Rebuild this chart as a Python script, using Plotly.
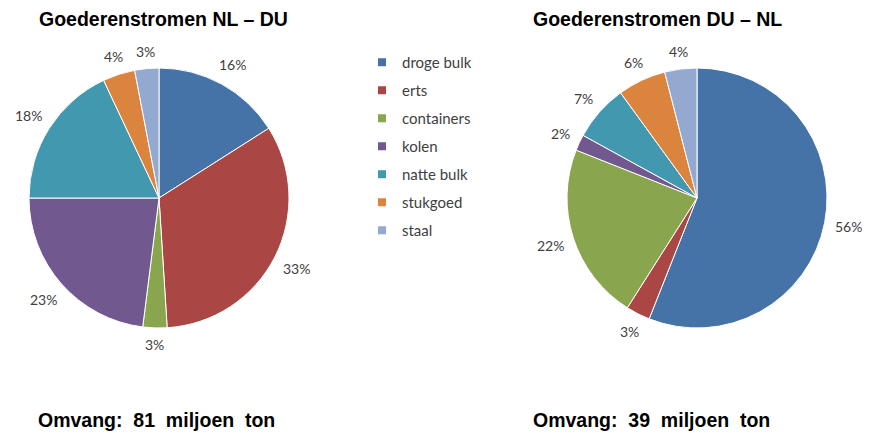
import math
import plotly.graph_objects as go

categories = ["droge bulk", "erts", "containers", "kolen", "natte bulk", "stukgoed", "staal"]
nl_du_values = [16, 33, 3, 23, 18, 4, 3]
du_nl_values = [56, 3, 22, 2, 7, 6, 4]
colors = ["#4572A7", "#AA4643", "#89A54E", "#71588F", "#4198AF", "#DB843D", "#93A9CF"]

title_left = "Goederenstromen NL – DU"
title_right = "Goederenstromen DU – NL"
volume_left = "Omvang:\u00a0 81\u00a0 miljoen\u00a0 ton"
volume_right = "Omvang:\u00a0 39\u00a0 miljoen\u00a0 ton"

W, H = 870, 433
OFF = 8  # page body margin in the browser


def fx(x):
    return (x - OFF) / W


def fy(y):
    return 1 - (y - OFF) / H


LABEL_FONT = dict(family="Lato, Open Sans, sans-serif", size=14, color="#404040")

# pie boxes in reference pixels: (x0, x1, y0, y1)
left_box = (29, 289, 68, 328)
right_box = (567, 827, 68, 328)


def pie(values, box):
    x0, x1, y0, y1 = box
    return go.Pie(
        labels=categories, values=values, sort=False, direction="clockwise",
        rotation=0, marker=dict(colors=colors, line=dict(color="white", width=1)),
        textinfo="none",
        domain=dict(x=[fx(x0), fx(x1)], y=[fy(y1), fy(y0)]),
        showlegend=False, hoverinfo="label+percent",
    )


def label_annotations(values, box):
    x0, x1, y0, y1 = box
    cx, cy = (x0 + x1) / 2, (y0 + y1) / 2
    R = (x1 - x0) / 2
    total = sum(values)
    cum = 0
    anns = []
    fs = LABEL_FONT["size"]
    for v in values:
        theta = 2 * math.pi * (cum + v / 2) / total
        cum += v
        txt = "%d%%" % round(100 * v / total)
        hw = 0.5 * fs * (0.58 * (len(txt) - 1) + 0.85)
        hh = 0.5 * fs
        s, c = math.sin(theta), math.cos(theta)
        r = R + 9 + abs(s) * hw + abs(c) * hh
        anns.append(dict(x=fx(cx + r * s), y=fy(cy - r * c), xref="paper", yref="paper",
                         text=txt, showarrow=False, font=LABEL_FONT,
                         xanchor="center", yanchor="middle"))
    return anns


fig = go.Figure()
fig.add_trace(pie(nl_du_values, left_box))
fig.add_trace(pie(du_nl_values, right_box))

for cat, col in zip(categories, colors):
    fig.add_trace(go.Scatter(
        x=[None], y=[None], mode="markers", name=cat, legendgroup=cat,
        marker=dict(symbol="square", size=8, color=col), showlegend=True,
    ))

fig.update_xaxes(visible=False)
fig.update_yaxes(visible=False)

for a in label_annotations(nl_du_values, left_box) + label_annotations(du_nl_values, right_box):
    fig.add_annotation(**a)

tfont = dict(family="Liberation Sans, Arial, sans-serif", size=19.5, color="black")
for x, y, t in [(163, 19, title_left), (657, 19, title_right),
                (156, 420, volume_left), (651, 420, volume_right)]:
    fig.add_annotation(x=fx(x), y=fy(y), xref="paper", yref="paper", text="<b>%s</b>" % t,
                       showarrow=False, font=tfont, xanchor="center", yanchor="middle")

fig.update_layout(
    width=W, height=H,
    margin=dict(l=0, r=0, t=0, b=0),
    paper_bgcolor="white", plot_bgcolor="white",
    legend=dict(x=fx(362), y=fy(46), xanchor="left", yanchor="top",
                font=dict(family="Lato, Open Sans, sans-serif", size=15, color="#404040"),
                tracegroupgap=5.5, itemwidth=30, bgcolor="rgba(0,0,0,0)"),
)

fig.write_html("out.html")
